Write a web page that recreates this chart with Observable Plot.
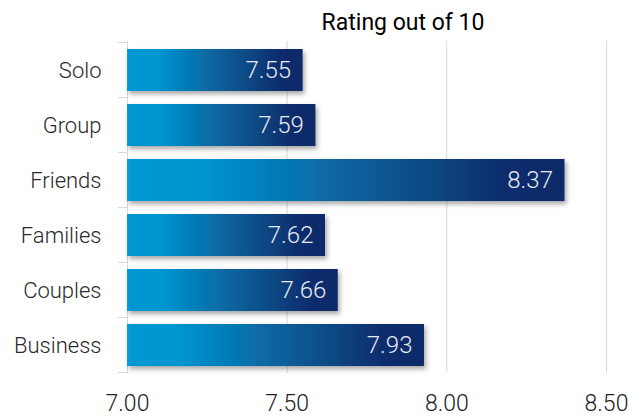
<!DOCTYPE html>
<html>
<head>
<meta charset="utf-8">
<script src="https://cdn.jsdelivr.net/npm/d3@7"></script>
<script src="https://cdn.jsdelivr.net/npm/@observablehq/plot@0.6"></script>
<style>
  body { margin: 0; background: #fff; }
  #wrap { width: 629px; height: 419px; overflow: hidden; font-family: Roboto, "Open Sans", sans-serif; }
  #title { height: 36px; box-sizing: border-box; padding-left: 177px; text-align: center;
           font-size: 23px; font-weight: 400; color: #000; line-height: 46px; overflow: visible; }
  svg { display: block; }
</style>
</head>
<body>
<div id="wrap">
  <div id="title">Rating out of 10</div>
  <div id="chart"></div>
</div>
<script>
const categories = ["Solo", "Group", "Friends", "Families", "Couples", "Business"];
const ratings = [7.55, 7.59, 8.37, 7.62, 7.66, 7.93];
const xTicks = [7.0, 7.5, 8.0, 8.5];
const xDomain = [7.0, 8.5];

const data = categories.map((c, i) => ({category: c, rating: ratings[i]}));

const plot = Plot.plot({
  width: 629,
  height: 383,
  marginTop: 5,
  marginBottom: 46,
  marginLeft: 127,
  marginRight: 23,
  style: {fontFamily: "Roboto, 'Open Sans', sans-serif", fontSize: "20px", color: "#222", background: "#fff"},
  x: {domain: xDomain, ticks: xTicks, tickFormat: d3.format(".2f"), label: null},
  y: {domain: categories, paddingInner: 0.24, paddingOuter: 0.12, label: null},
  marks: [
    Plot.ruleX(xTicks.slice(1), {stroke: "#d9d9d9", strokeWidth: 1}),
    Plot.ruleX([xDomain[0]], {stroke: "#d9d9d9", strokeWidth: 1}),
    Plot.axisX({ticks: xTicks, tickSize: 0, tickPadding: 21, fontSize: 23, fontWeight: 300, fill: "#222", tickFormat: d3.format(".2f"), label: null}),
    Plot.axisY({tickSize: 0, tickPadding: 26, fontSize: 22, fontWeight: 300, fill: "#2a2a2a", label: null}),
    Plot.barX(data, {y: "category", x1: xDomain[0], x2: "rating", fill: "url(#barGrad)"}),
    Plot.text(data, {y: "category", x: "rating", text: d => d3.format(".2f")(d.rating), textAnchor: "end", dx: -12, fill: "#e6ebf2", fontSize: 24, fontWeight: 300})
  ]
});

const svg = d3.select(plot);
const defs = svg.insert("defs", ":first-child");
const grad = defs.append("linearGradient").attr("id", "barGrad").attr("x1", "0").attr("x2", "1").attr("y1", "0").attr("y2", "0");
[["0%", "#0a9bd6"], ["2%", "#0097d3"], ["17%", "#0096d2"], ["45%", "#086aa5"], ["70%", "#0a4782"], ["86%", "#0b2d6d"], ["100%", "#0c2a69"]]
  .forEach(([o, c]) => grad.append("stop").attr("offset", o).attr("stop-color", c));
const f = defs.append("filter").attr("id", "shadow").attr("x", "-10%").attr("y", "-30%").attr("width", "130%").attr("height", "170%");
f.append("feDropShadow").attr("dx", 2).attr("dy", 3).attr("stdDeviation", 2.5).attr("flood-color", "#000").attr("flood-opacity", 0.35);
svg.selectAll('g[aria-label="bar"] rect').attr("filter", "url(#shadow)");

// category boundary ticks on the y axis
const y = plot.scale("y");
const x = plot.scale("x");
const step = y.step;
const x0 = x.apply(xDomain[0]);
const bounds = categories.map(c => y.apply(c) - (step - y.bandwidth) / 2);
bounds.push(y.apply(categories[categories.length - 1]) + y.bandwidth + (step - y.bandwidth) / 2);
svg.append("g").selectAll("line").data(bounds).join("line")
  .attr("x1", x0 - 9).attr("x2", x0).attr("y1", d => d).attr("y2", d => d)
  .attr("stroke", "#d9d9d9").attr("stroke-width", 1);

document.getElementById("chart").appendChild(plot);
</script>
</body>
</html>
